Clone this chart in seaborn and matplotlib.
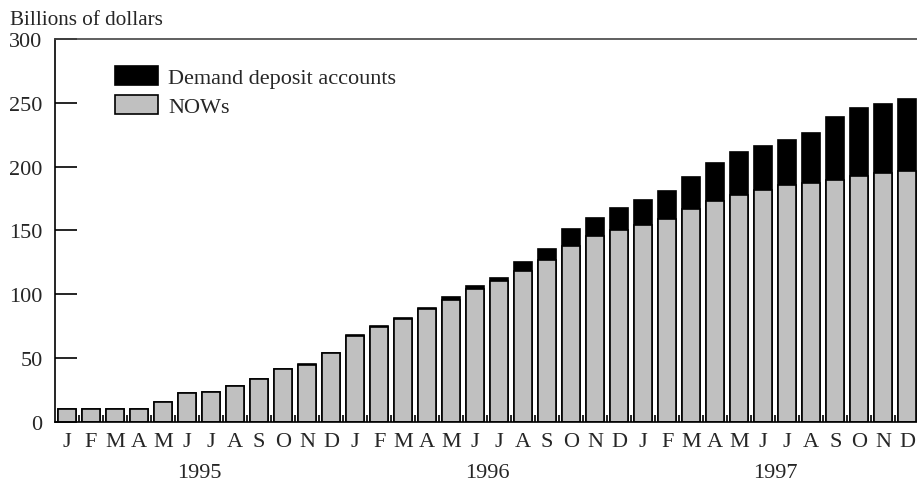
import matplotlib
matplotlib.use("Agg")
import matplotlib.pyplot as plt
import numpy as np
import pandas as pd
import seaborn as sns

# Household checking balances swept by retail sweep programs, billions of dollars
years = ['1995', '1996', '1997']
month_letters = ['J', 'F', 'M', 'A', 'M', 'J', 'J', 'A', 'S', 'O', 'N', 'D']
nows = [10, 10, 10, 10, 15.4, 22.7, 23.5, 28.2, 33.9, 41.2, 44.9, 54.0,
        67.4, 74.4, 80.7, 88.3, 95.5, 103.8, 110.3, 118.0, 126.6, 137.6, 145.7, 150.7,
        154.0, 159.0, 167.1, 173.1, 178.1, 182.0, 185.4, 187.2, 189.6, 192.7, 195.0, 196.9]
demand = [0, 0, 0, 0, 0, 0, 0, 0, 0, 0.3, 0.3, 0.3,
          0.5, 0.5, 0.8, 1.0, 2.2, 2.5, 2.5, 7.6, 8.6, 13.3, 14.1, 17.2,
          19.9, 21.9, 24.8, 29.8, 33.4, 34.4, 35.2, 39.4, 49.3, 53.3, 53.8, 55.8]

periods = [f"{y}-{i + 1:02d}" for y in years for i in range(12)]
df = pd.DataFrame({'period': periods, 'NOWs': nows, 'Demand deposit accounts': demand})
df['total'] = df['NOWs'] + df['Demand deposit accounts']

sns.set_theme(style='white')
plt.rcParams['font.family'] = ['Liberation Serif', 'DejaVu Serif']
FS = 16

fig = plt.figure(figsize=(9.17, 4.81), dpi=100)
ax = fig.add_axes([0.06, 0.1206, 0.9425, 0.7964])

sns.barplot(data=df, x='period', y='total', order=periods, color='black', width=0.75,
            edgecolor='black', linewidth=1.2, saturation=1, ax=ax,
            label='Demand deposit accounts')
sns.barplot(data=df, x='period', y='NOWs', order=periods, color='#c0c0c0', width=0.75,
            edgecolor='black', linewidth=1.2, saturation=1, ax=ax, label='NOWs')

ax.set_xlim(-0.5, len(periods) - 0.5)
ax.set_ylim(0, 300)
ax.set_yticks(range(0, 301, 50))
ax.tick_params(axis='y', direction='in', length=16, width=1.2, labelsize=FS, pad=9,
               color='black', left=True)
ax.set_xticks(range(len(periods)))
ax.set_xticklabels(month_letters * len(years), fontsize=FS)
ax.tick_params(axis='x', length=0, pad=7)
ax.set_xticks(np.arange(0.5, len(periods) - 1, 1), minor=True)
ax.tick_params(axis='x', which='minor', direction='in', length=5, width=1.2,
               color='black', bottom=True)
ax.set_xlabel('')
ax.set_ylabel('')

for i, y in enumerate(years):
    ax.text(12 * i + 5.5, -0.131, y, transform=ax.get_xaxis_transform(),
            ha='center', va='center', fontsize=FS)

for side in ['left', 'bottom', 'top']:
    ax.spines[side].set_visible(True)
    ax.spines[side].set_color('black')
    ax.spines[side].set_linewidth(1.2)
ax.spines['top'].set_color('#444444')
ax.spines['right'].set_visible(False)

ax.legend(loc='upper left', bbox_to_anchor=(0.0694, 0.93), frameon=False, fontsize=FS,
          handlelength=1.94, handleheight=0.95, handletextpad=0.45, labelspacing=0.3,
          borderpad=0, borderaxespad=0)

fig.text(0.011, 0.958, 'Billions of dollars', fontsize=15.2, ha='left', va='center')

fig.savefig('out.png', dpi=100)
